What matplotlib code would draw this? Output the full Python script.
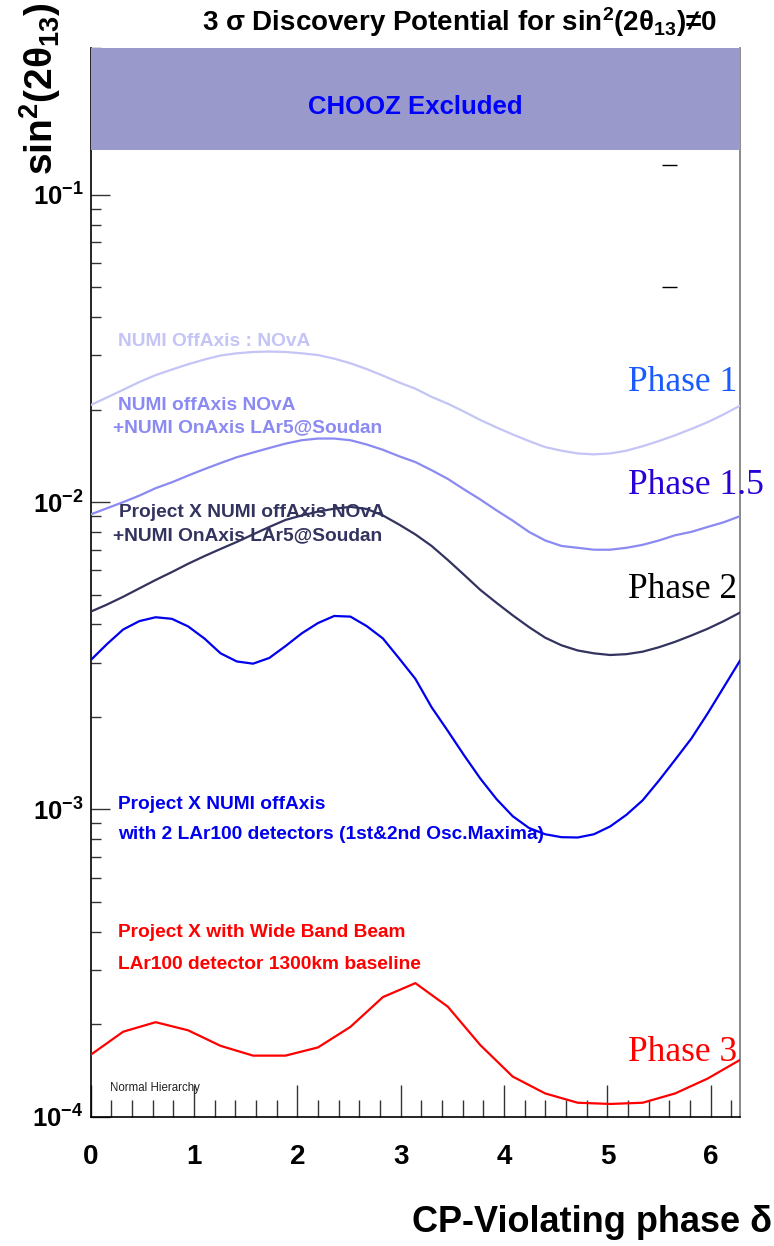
"""3 sigma discovery potential for sin^2(2 theta_13) vs CP phase."""

import matplotlib
matplotlib.use("Agg")
import matplotlib.pyplot as plt
import numpy as np
from matplotlib.ticker import FuncFormatter, LogLocator, MultipleLocator, NullFormatter

plt.rcParams["font.family"] = ["Liberation Sans", "DejaVu Sans"]
plt.rcParams["mathtext.fontset"] = "custom"
plt.rcParams["mathtext.rm"] = "Liberation Sans"
plt.rcParams["mathtext.bf"] = "Liberation Sans:bold"
plt.rcParams["mathtext.it"] = "Liberation Sans:italic"

# delta_CP grids over [0, 2pi]: fine one for the NuMI curves, coarse one for the WBB scan
delta_fine = np.linspace(0.0, 2.0 * np.pi, 41)
delta_wbb = np.linspace(0.0, 2.0 * np.pi, 21)

nova = [0.0207, 0.0219, 0.0232, 0.0246, 0.0259, 0.0270, 0.0281, 0.0291, 0.0300, 0.0305,
        0.0308, 0.0309, 0.0308, 0.0305, 0.0301, 0.0293, 0.0283, 0.0271, 0.0258, 0.0245,
        0.0234, 0.0220, 0.0209, 0.0197, 0.0185, 0.0175, 0.0166, 0.0158, 0.0151, 0.0147,
        0.0144, 0.0143, 0.0144, 0.0147, 0.0152, 0.0158, 0.0165, 0.0173, 0.0182, 0.0193, 0.0206]
nova_lar5 = [0.00912, 0.00955, 0.0100, 0.0105, 0.0111, 0.0116, 0.0122, 0.0128, 0.0134, 0.0140,
             0.0145, 0.0150, 0.0155, 0.0159, 0.0161, 0.0161, 0.0159, 0.0154, 0.0148, 0.0141,
             0.0135, 0.0127, 0.0119, 0.0110, 0.0102, 0.0094, 0.0087, 0.0080, 0.0075, 0.0072,
             0.0071, 0.0070, 0.0070, 0.0071, 0.00726, 0.0075, 0.0078, 0.0080, 0.0083, 0.0086, 0.0090]
px_nova_lar5 = [0.00440, 0.00464, 0.00492, 0.00524, 0.00558, 0.00592, 0.00630, 0.00667, 0.00704, 0.00742,
                0.00785, 0.00830, 0.00875, 0.00905, 0.00931, 0.00952, 0.00965, 0.00950, 0.00905, 0.00845,
                0.00785, 0.00720, 0.00648, 0.00580, 0.00518, 0.00470, 0.00428, 0.00392, 0.00362, 0.00342,
                0.00329, 0.00322, 0.00318, 0.00320, 0.00326, 0.00337, 0.00351, 0.00368, 0.00387, 0.00410, 0.00437]
px_lar100 = [0.00306, 0.00345, 0.00385, 0.00410, 0.00422, 0.00417, 0.00394, 0.00360, 0.00322, 0.00303,
             0.00298, 0.00311, 0.00340, 0.00374, 0.00404, 0.00426, 0.00424, 0.00395, 0.00360, 0.00310,
             0.00266, 0.00215, 0.00180, 0.00150, 0.00126, 0.00108, 0.00095, 0.000870, 0.000830, 0.000812,
             0.000810, 0.000830, 0.000880, 0.00096, 0.00107, 0.00124, 0.00145, 0.00170, 0.00205, 0.00250, 0.00305]
px_wbb = [1.59e-4, 1.89e-4, 2.03e-4, 1.91e-4, 1.70e-4, 1.58e-4, 1.58e-4, 1.68e-4, 1.96e-4, 2.45e-4, 2.72e-4,
          2.28e-4, 1.71e-4, 1.35e-4, 1.19e-4, 1.11e-4, 1.10e-4, 1.11e-4, 1.19e-4, 1.33e-4, 1.53e-4]

chooz_limit = 0.14
y_top = 0.3
right_marks = [0.125, 0.05]

c_nova = "#c4c4f6"
c_lar5 = "#8a8af2"
c_px = "#33335f"
c_lar100 = "#0000ee"
c_wbb = "#ff0000"

fig = plt.figure(figsize=(7.74, 12.46), dpi=100)
ax = fig.add_axes([0.1172, 0.1038, 0.8389, 0.8575])
ax.set_yscale("log")
ax.set_xlim(0, 2 * np.pi)
ax.set_ylim(1e-4, y_top)

# excluded region covers the frame and ticks underneath it
ax.axhspan(chooz_limit, y_top, color="#9999cc", lw=0, zorder=4)
ax.text(0.5, 0.193, "CHOOZ Excluded", color="#0000ff", fontsize=18.5, zorder=5,
        fontweight="bold", ha="center", va="center", transform=ax.get_yaxis_transform())

for xs, ys, col in [(delta_fine, nova, c_nova), (delta_fine, nova_lar5, c_lar5),
                    (delta_fine, px_nova_lar5, c_px), (delta_fine, px_lar100, c_lar100),
                    (delta_wbb, px_wbb, c_wbb)]:
    ax.plot(xs, ys, color=col, lw=1.6, zorder=3)

ax.hlines(right_marks, 5.53, 5.67, color="black", lw=1.0)

# curve labels
lab = dict(fontsize=13.8, fontweight="bold", va="baseline", ha="left")
ax.text(0.267, 0.0322, "NUMI OffAxis : NOvA", color=c_nova, **lab)
ax.text(0.267, 0.01995, "NUMI offAxis NOvA", color=c_lar5, **lab)
ax.text(0.219, 0.0169, "+NUMI OnAxis LAr5@Soudan", color=c_lar5, **lab)
ax.text(0.277, 0.00893, "Project X NUMI offAxis NOvA", color=c_px, **lab)
ax.text(0.219, 0.00753, "+NUMI OnAxis LAr5@Soudan", color=c_px, **lab)
ax.text(0.267, 0.001005, "Project X NUMI offAxis", color=c_lar100, **lab)
ax.text(0.267, 0.000802, "with 2 LAr100 detectors (1st&2nd Osc.Maxima)", color=c_lar100, **lab)
ax.text(0.267, 0.000385, "Project X with Wide Band Beam", color=c_wbb, **lab)
ax.text(0.267, 0.000302, "LAr100 detector 1300km baseline", color=c_wbb, **lab)
ax.text(0.188, 0.0001216, "Normal Hierarchy", fontsize=8.3, va="baseline", color="#222222")

ph = dict(fontsize=25.5, family="Liberation Serif", va="baseline", ha="left", clip_on=False)
ax.text(5.196, 0.0230, "Phase 1", color="#1a5aff", **ph)
ax.text(5.196, 0.01061, "Phase 1.5", color="#2a00d8", **ph)
ax.text(5.196, 0.00488, "Phase 2", color="black", **ph)
ax.text(5.196, 0.0001518, "Phase 3", color="#ff0000", **ph)

# axes frame and ticks
ax.spines["top"].set_visible(False)
ax.spines["right"].set_color("#777777")
for s in ("left", "bottom", "right"):
    ax.spines[s].set_linewidth(1.2)

ax.xaxis.set_major_locator(MultipleLocator(1))
ax.xaxis.set_minor_locator(MultipleLocator(0.2))
ax.xaxis.set_major_formatter(FuncFormatter(lambda v, p: f"{int(round(v))}"))
ax.tick_params(axis="x", which="major", direction="in", length=23, width=1, pad=20,
               labelsize=20, top=False, color="#333333")
ax.tick_params(axis="x", which="minor", direction="in", length=12, width=1, top=False, color="#333333")

ax.yaxis.set_major_locator(LogLocator(base=10, numticks=10))
ax.yaxis.set_minor_locator(LogLocator(base=10, subs=np.arange(2, 10), numticks=20))
ax.yaxis.set_minor_formatter(NullFormatter())
ax.yaxis.set_major_formatter(FuncFormatter(lambda v, p: r"$\mathbf{10^{%d}}$" % round(np.log10(v))))
ax.tick_params(axis="y", which="major", direction="in", length=13.7, width=1, pad=5,
               labelsize=18.5, right=False, color="#333333")
ax.tick_params(axis="y", which="minor", direction="in", length=7.2, width=1, right=False, color="#333333")
for t in ax.get_xticklabels():
    t.set_fontweight("bold")

fig.text(459 / 774, 1 - 22 / 1246, r"3 σ Discovery Potential for sin$^{\mathbf{2}}$(2θ$_{\mathbf{13}}$)≠0",
         ha="center", va="center", fontsize=20, fontweight="bold")
fig.text(40 / 774, 1 - 2 / 1246, r"sin$^{\mathbf{2}}$(2θ$_{\mathbf{13}}$)", rotation=90,
         ha="center", va="top", fontsize=28, fontweight="bold")
fig.text(772 / 774, 1 - 1222 / 1246, "CP-Violating phase δ", ha="right", va="center",
         fontsize=26, fontweight="bold")

fig.savefig("out.png", dpi=100)
